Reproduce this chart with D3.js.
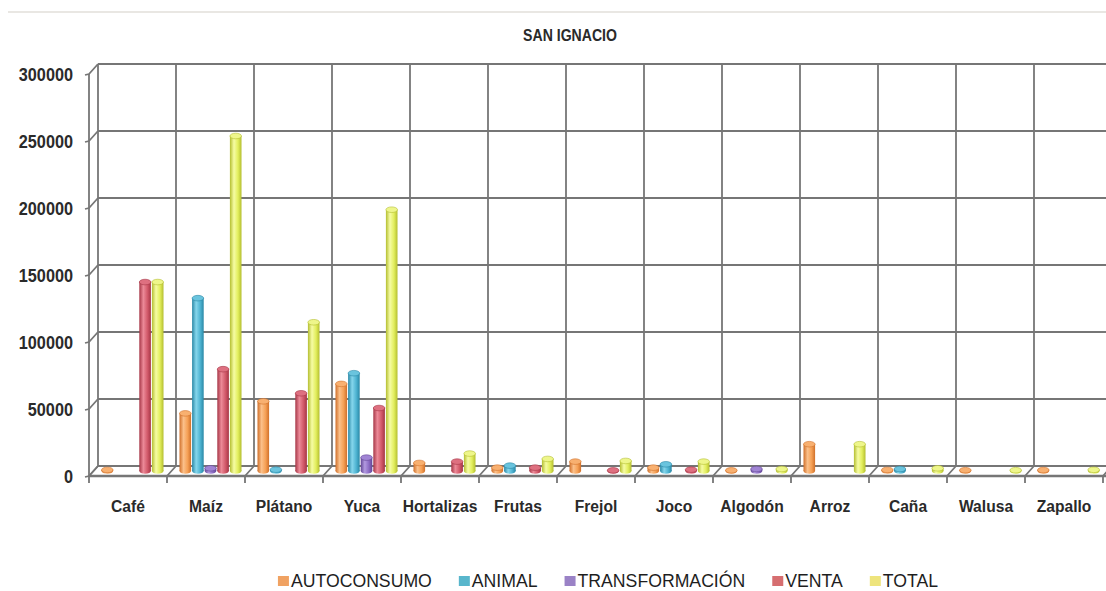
<!DOCTYPE html>
<html><head><meta charset="utf-8">
<script src="https://cdn.jsdelivr.net/npm/d3@7"></script>
<style>body{margin:0;background:#fff}svg{display:block}</style>
</head><body>
<svg id="c" width="1106" height="591"></svg>
<script>
const categories = ["Café","Maíz","Plátano","Yuca","Hortalizas","Frutas","Frejol","Joco","Algodón","Arroz","Caña","Walusa","Zapallo"];
const seriesNames = ["AUTOCONSUMO","ANIMAL","TRANSFORMACIÓN","VENTA","TOTAL"];
const autoconsumo    = [800, 43000, 52000, 65000, 6000, 2500, 7000, 2500, 500, 20000, 800, 600, 700];
const animal         = [0, 129000, 1000, 73000, 0, 4000, 0, 5000, 0, 0, 1500, 0, 0];
const transformacion = [0, 2000, 0, 10000, 0, 0, 0, 0, 1500, 0, 0, 0, 0];
const venta          = [141000, 76000, 58000, 47000, 7000, 2500, 500, 1000, 0, 0, 0, 0, 0];
const total          = [141000, 250000, 111000, 195000, 13000, 9000, 7500, 7000, 1500, 20000, 2000, 600, 900];
const yTicks = [0, 50000, 100000, 150000, 200000, 250000, 300000];
const titleText = "SAN IGNACIO";

const seriesValues = [autoconsumo, animal, transformacion, venta, total];
const colors = [
  {base:"#f5a055", dark:"#d0702a", light:"#fbc08a", top:"#f8b070", leg:"#f0a262"},
  {base:"#4fb4d2", dark:"#2a88a6", light:"#86d6ec", top:"#6ac4de", leg:"#58b6cc"},
  {base:"#8c6cc4", dark:"#634696", light:"#b29ae0", top:"#a084d4", leg:"#9a82c6"},
  {base:"#d25a6a", dark:"#a63646", light:"#ec8a98", top:"#de7080", leg:"#d66e70"},
  {base:"#e2ee5c", dark:"#b4be30", light:"#f6fca4", top:"#eef68a", leg:"#eee47c"}
];

const svg = d3.select("#c");
const font = "'Liberation Sans', Arial, sans-serif";
const DX = -9, DY = 10; // depth offset (back -> front)

const x = d3.scaleBand().domain(categories).range([98, 98 + 78*13]).paddingInner(0).paddingOuter(0);
const xFront = d3.scaleBand().domain(categories).range([98 + DX, 98 + DX + 78*13]);
const y = d3.scaleLinear().domain([0, 300000]).range([466, 64]);
const xs = d3.scaleBand().domain(seriesNames).range([8, x.bandwidth() - 8]).paddingInner(0.08);

// top light line
svg.append("line").attr("x1", 8).attr("x2", 1106).attr("y1", 12).attr("y2", 12)
  .attr("stroke", "#e2dfda").attr("stroke-width", 1.5);

// gradients
const defs = svg.append("defs");
colors.forEach((c, i) => {
  const g = defs.append("linearGradient").attr("id", "g" + i).attr("x1", "0").attr("x2", "1").attr("y1", "0").attr("y2", "0");
  g.append("stop").attr("offset", "0%").attr("stop-color", c.dark);
  g.append("stop").attr("offset", "35%").attr("stop-color", c.light);
  g.append("stop").attr("offset", "70%").attr("stop-color", c.base);
  g.append("stop").attr("offset", "100%").attr("stop-color", c.dark);
});

const gridC = "#767676", gw = 1.8;
const grid = svg.append("g");
const xEnd = 1106;
yTicks.forEach(t => {
  grid.append("line").attr("x1", 98).attr("x2", xEnd).attr("y1", y(t)).attr("y2", y(t))
    .attr("stroke", gridC).attr("stroke-width", gw);
  grid.append("path").attr("d", `M98,${y(t)} L${98+DX},${y(t)+DY} L${98+DX-4},${y(t)+DY+1}`)
    .attr("fill", "none").attr("stroke", gridC).attr("stroke-width", gw);
});
const bounds = categories.map(c => x(c)).concat([x.range()[1]]);
bounds.forEach(b => {
  if (b > xEnd + 1) return;
  grid.append("line").attr("x1", b).attr("x2", b).attr("y1", y(300000)).attr("y2", y(0))
    .attr("stroke", gridC).attr("stroke-width", gw);
});
grid.append("line").attr("x1", 98+DX).attr("x2", 98+DX).attr("y1", y(300000)+DY).attr("y2", y(0)+DY)
  .attr("stroke", gridC).attr("stroke-width", gw);
grid.append("line").attr("x1", 98+DX).attr("x2", xEnd).attr("y1", y(0)+DY).attr("y2", y(0)+DY)
  .attr("stroke", gridC).attr("stroke-width", 2.6);
bounds.forEach(b => {
  if (b + DX > xEnd + 1) return;
  grid.append("path").attr("d", `M${b},${y(0)} L${b+DX},${y(0)+DY} L${b+DX},${y(0)+DY+7}`)
    .attr("fill", "none").attr("stroke", gridC).attr("stroke-width", gw);
});

// bars (cylinders) at mid depth
const mdx = DX/2, mdy = DY/2;
const bw = xs.bandwidth();
const ry = 2.8;
const bars = svg.append("g");
categories.forEach((cat, ci) => {
  seriesNames.forEach((s, si) => {
    const v = seriesValues[si][ci];
    if (!v) return;
    const bx = x(cat) + xs(s) + mdx;
    const yt = y(v) + mdy, yb = y(0) + mdy;
    const c = colors[si];
    const gg = bars.append("g");
    gg.append("ellipse").attr("cx", bx + bw/2).attr("cy", yb).attr("rx", bw/2).attr("ry", ry)
      .attr("fill", `url(#g${si})`);
    gg.append("rect").attr("x", bx).attr("y", yt).attr("width", bw).attr("height", Math.max(0, yb - yt))
      .attr("fill", `url(#g${si})`);
    gg.append("ellipse").attr("cx", bx + bw/2).attr("cy", yt).attr("rx", bw/2).attr("ry", ry)
      .attr("fill", c.top).attr("stroke", c.dark).attr("stroke-width", 0.6);
  });
});

// y axis labels
const yFront = y.copy().range([y.range()[0] + DY, y.range()[1] + DY]);
const yAxis = svg.append("g").attr("transform", `translate(${98+DX},0)`)
  .call(d3.axisLeft(yFront).tickValues(yTicks).tickFormat(d3.format("d")).tickSize(0).tickPadding(0));
yAxis.select(".domain").remove();
yAxis.selectAll("text")
  .attr("x", null).attr("dy", null)
  .attr("transform", "translate(-16,6) scale(0.93,1)")
  .attr("font-family", font).attr("font-size", 17.5).attr("font-weight", "bold")
  .attr("fill", "#2a2a2a").attr("text-anchor", "end");

// x axis labels
const xAxis = svg.append("g").attr("transform", `translate(0,${y(0)+DY})`)
  .call(d3.axisBottom(xFront).tickSize(0).tickPadding(0));
xAxis.select(".domain").remove();
xAxis.selectAll("text")
  .attr("y", null).attr("dy", null)
  .attr("transform", "translate(0,36) scale(0.92,1)")
  .attr("font-family", font).attr("font-size", 17).attr("font-weight", "bold")
  .attr("fill", "#2a2a2a").attr("text-anchor", "middle");

// title
svg.append("text").attr("transform", "translate(570,41) scale(0.88,1)")
  .attr("text-anchor", "middle").attr("font-family", font).attr("font-size", 16)
  .attr("font-weight", "bold").attr("fill", "#2a2a2a").text(titleText);

// legend
const lg = svg.append("g");
let lx = 0;
const lsx = 0.93;
const gap = 27;
seriesNames.forEach((s, i) => {
  const it = lg.append("g").attr("transform", `translate(${lx},0)`);
  it.append("rect").attr("x", 0).attr("y", -11).attr("width", 11).attr("height", 10).attr("fill", colors[i].leg);
  const t = it.append("text").attr("transform", `translate(13,0) scale(${lsx},1)`)
    .attr("font-family", font).attr("font-size", 19).attr("fill", "#1e1e1e").text(s);
  const w = t.node().getComputedTextLength() * lsx;
  lx += 13 + w + gap;
});
const lw = lx - gap;
lg.attr("transform", `translate(${608 - lw/2},587)`);
</script>
</body></html>
